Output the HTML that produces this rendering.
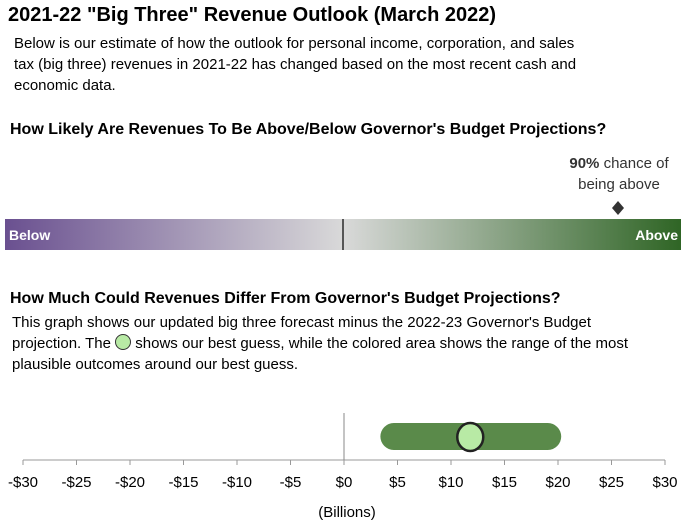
<!DOCTYPE html>
<html><head><meta charset="utf-8"><style>
body{margin:0;width:697px;height:530px;background:#fff;font-family:"Liberation Sans",sans-serif;color:#000;position:relative;overflow:hidden}
.a{position:absolute;white-space:nowrap}
</style></head><body>
<div class="a" style="left:8px;top:4px;font-size:20px;font-weight:bold">2021-22 "Big Three" Revenue Outlook (March 2022)</div>
<div class="a" style="left:14px;top:33px;font-size:15px;line-height:21px">Below is our estimate of how the outlook for personal income, corporation, and sales<br>tax (big three) revenues in 2021-22 has changed based on the most recent cash and<br>economic data.</div>
<div class="a" style="left:10px;top:121px;font-size:16px;font-weight:bold">How Likely Are Revenues To Be Above/Below Governor's Budget Projections?</div>
<div class="a" style="left:560px;top:153px;width:118px;text-align:center;font-size:15px;line-height:21px;color:#333"><b>90%</b> chance of<br>being above</div>
<svg class="a" style="left:0;top:0" width="697" height="530">
<defs><linearGradient id="gl" x1="0" x2="1"><stop offset="0" stop-color="#6a5090"/><stop offset="1" stop-color="#d9d9d9"/></linearGradient>
<linearGradient id="gr" x1="0" x2="1"><stop offset="0" stop-color="#d9d9d9"/><stop offset="1" stop-color="#2f6525"/></linearGradient></defs>
<rect x="5" y="219" width="338" height="31" fill="url(#gl)"/>
<rect x="343" y="219" width="338" height="31" fill="url(#gr)"/>
<line x1="343" x2="343" y1="219" y2="250" stroke="#000" stroke-width="1.2"/>
<text x="9" y="240" font-size="14" font-weight="bold" fill="#fff">Below</text>
<text x="678" y="240" font-size="14" font-weight="bold" fill="#fff" text-anchor="end">Above</text>
<path id="diamond" d=""/>
<g id="axis"></g>
</svg>
<div class="a" style="left:10px;top:290px;font-size:16px;font-weight:bold">How Much Could Revenues Differ From Governor's Budget Projections?</div>
<div class="a" style="left:12px;top:312px;font-size:15px;line-height:21px">This graph shows our updated big three forecast minus the 2022-23 Governor's Budget<br>projection. The <span style="display:inline-block;width:14px;height:14px;border-radius:50%;background:#b8eaa5;border:1px solid #333;vertical-align:-2px"></span> shows our best guess, while the colored area shows the range of the most<br>plausible outcomes around our best guess.</div>
<div class="a" style="left:300px;top:504px;width:94px;text-align:center;font-size:15px">(Billions)</div>
<script>
const probability=[90];
const ticks=[-30,-25,-20,-15,-10,-5,0,5,10,15,20,25,30];
const tickLabels=["-$30","-$25","-$20","-$15","-$10","-$5","$0","$5","$10","$15","$20","$25","$30"];
const rangeLow=[3.4];
const rangeHigh=[20.3];
const bestGuess=[11.8];
const NS="http://www.w3.org/2000/svg";
const x=v=>344+v*10.7;
const px=p=>5+p/100*676*0.907;
const g=document.getElementById('axis');
function mk(t,a){const e=document.createElementNS(NS,t);for(const k in a)e.setAttribute(k,a[k]);g.appendChild(e);return e;}
const dx=618-(5+676*0.907*0.9)+px(probability[0]);
const d=document.getElementById('diamond');
d.setAttribute('d',`M${dx} 201 L${dx+6} 208 L${dx} 215 L${dx-6} 208Z`);d.setAttribute('fill','#333');
let l=mk('line',{x1:x(-30),x2:x(30),y1:460,y2:460,stroke:'#999'});


let z=mk('line',{x1:x(0),x2:x(0),y1:413,y2:460,stroke:'#888'});


ticks.forEach((t,i)=>{
 mk('line',{x1:x(t),x2:x(t),y1:460,y2:465,stroke:'#999'});
 const tx=mk('text',{x:x(t),y:487,'font-size':15,'text-anchor':'middle',fill:'#000'});tx.textContent=tickLabels[i];
 
 
});
const b=mk('rect',{x:x(rangeLow[0]),y:423,width:x(rangeHigh[0])-x(rangeLow[0]),height:27,rx:13.5,fill:'#5a8a4a'});


const c=mk('ellipse',{cx:x(bestGuess[0]),cy:437,rx:13,ry:14,fill:'#b8eaa5',stroke:'#222','stroke-width':2.5});


</script>
</body></html>
